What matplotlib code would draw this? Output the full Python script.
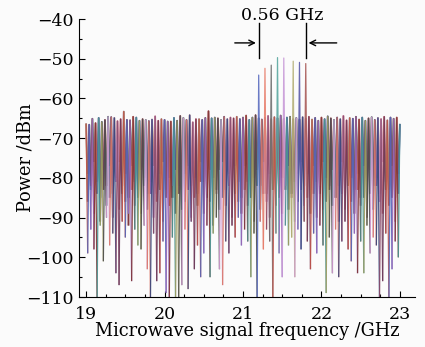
import numpy as np
import matplotlib
matplotlib.use('Agg')
import matplotlib.pyplot as plt
from matplotlib.collections import LineCollection
from matplotlib.ticker import MultipleLocator

plt.rcParams['font.family'] = ['DejaVu Serif']

# comb lines 19.00 ... 23.00 GHz, 0.04 GHz apart
comb_freq = np.linspace(19.0, 23.0, 101)

# peak level of every comb line (dBm)
comb_peak = [
    -66.3, -66.6, -65.1, -66.2, -64.9, -65.9, -65.4, -64.6, -64.7, -64.9,
    -65.7, -65.2, -63.3, -65.4, -65.5, -64.6, -64.8, -65.6, -65.2, -65.4,
    -65.7, -65.3, -64.5, -65.6, -65.2, -65.4, -65.8, -65.8, -64.9, -65.6,
    -64.4, -64.9, -65.4, -64.2, -66.0, -65.2, -65.2, -65.4, -64.9, -63.2,
    -65.0, -64.8, -65.0, -65.4, -64.6, -65.2, -64.8, -65.0, -64.6, -65.2,
    -64.8, -64.3, -65.4, -64.8, -64.2, -65.0, -65.3, -64.9, -64.4, -65.2,
    -64.7, -65.0, -64.3, -65.1, -64.8, -64.6, -65.2, -64.9, -65.3, -64.7,
    -65.1, -64.6, -65.3, -64.9, -65.6, -64.8, -65.2, -64.5, -65.0, -65.4,
    -64.8, -65.2, -64.4, -65.5, -64.9, -65.1, -64.6, -65.3, -64.8, -65.6,
    -65.0, -64.7, -65.4, -64.9, -65.2, -64.6, -65.5, -64.8, -65.1, -64.8,
    -66.4]

# the eight strong lines in the middle
tall_freq = [21.20, 21.28, 21.36, 21.44, 21.52, 21.64, 21.72, 21.80]
tall_level = [-54.1, -52.4, -51.6, -49.7, -49.8, -50.6, -50.9, -51.2]
tall_colors = ['#5a6cc0', '#e8806e', '#707070', '#5aa8a0',
               '#c89ad8', '#b4b078', '#5a5aa8', '#a85a58']

# floor between neighbouring lines, three traces
trough_1 = [
    -99, -93, -98, -112, -92, -101, -90, -97, -94, -104,
    -107, -91, -95, -89, -106, -93, -97, -98, -92, -103,
    -112, -94, -106, -104, -96, -109, -112, -95, -112, -110,
    -107, -93, -108, -91, -103, -97, -105, -99, -92, -105,
    -94, -90, -103, -107, -96, -99, -92, -95, -90, -97,
    -93, -96, -105, -94, -112, -91, -98, -93, -96, -112,
    -94, -99, -105, -92, -97, -95, -105, -93, -98, -91,
    -96, -103, -94, -99, -92, -97, -109, -95, -104, -93,
    -105, -96, -91, -98, -101, -94, -104, -96, -104, -92,
    -99, -95, -97, -112, -106, -94, -112, -103, -96, -100]
trough_2 = [
    -86, -82, -89, -84, -91, -83, -87, -85, -90, -81,
    -88, -84, -86, -92, -83, -87, -85, -89, -82, -88,
    -84, -90, -86, -83, -91, -85, -87, -82, -89, -84,
    -88, -86, -83, -90, -85, -87, -81, -89, -84, -86,
    -92, -83, -88, -85, -87, -82, -90, -84, -86, -89,
    -83, -87, -85, -91, -82, -88, -84, -86, -90, -83,
    -87, -85, -89, -82, -88, -84, -91, -86, -83, -87,
    -85, -89, -84, -90, -82, -88, -86, -83, -87, -85,
    -91, -84, -88, -82, -86, -89, -83, -87, -85, -90,
    -84, -88, -82, -86, -89, -83, -87, -85, -91, -84]
trough_3 = [
    -79, -83, -76, -81, -85, -78, -82, -77, -84, -80,
    -76, -82, -79, -85, -77, -81, -83, -78, -80, -84,
    -81, -77, -84, -79, -76, -83, -80, -85, -78, -82,
    -83, -79, -77, -82, -80, -84, -76, -81, -85, -78,
    -80, -84, -78, -76, -83, -79, -82, -77, -81, -85,
    -77, -81, -85, -80, -78, -82, -76, -84, -79, -83,
    -84, -78, -80, -83, -77, -85, -81, -79, -76, -82,
    -79, -83, -77, -81, -84, -76, -80, -82, -78, -85,
    -82, -76, -84, -78, -80, -83, -79, -85, -77, -81,
    -78, -82, -80, -84, -76, -81, -83, -77, -85, -79]

palette = ['#c0524a', '#5566b8', '#9a68b8', '#7e3434', '#4a9490',
           '#a09c60', '#4e4e4e', '#d09ad0', '#dc7868', '#37457a',
           '#8a4a6a', '#6a3a5a']


def spikes(peaks, troughs):
    mid = (comb_freq[:-1] + comb_freq[1:]) / 2
    segs = []
    for k in range(len(comb_freq)):
        pts = []
        if k > 0:
            pts.append((mid[k-1], troughs[k-1]))
        pts.append((comb_freq[k], peaks[k]))
        if k < len(mid):
            pts.append((mid[k], troughs[k]))
        segs.append(pts)
    return segs


n = len(comb_freq)
m = len(palette)
peak_1 = list(comb_peak)
col_1 = [palette[k % m] for k in range(n)]
for f, p, c in zip(tall_freq, tall_level, tall_colors):
    k = int(round((f - 19.0) / 0.04))
    peak_1[k] = p
    col_1[k] = c
col_2 = [palette[(5*k + 5) % m] for k in range(n)]
col_3 = [palette[(7*k + 2) % m] for k in range(n)]

fig = plt.figure(figsize=(4.25, 3.47), dpi=100)
fig.patch.set_facecolor('#fbfbfb')
ax = fig.add_axes([0.186, 0.144, 0.79, 0.801])
ax.set_facecolor('#fbfbfb')

ax.add_collection(LineCollection(spikes(comb_peak, trough_3), colors=col_3, linewidths=1.3, alpha=0.85))
ax.add_collection(LineCollection(spikes(comb_peak, trough_2), colors=col_2, linewidths=1.2, alpha=0.85))
ax.add_collection(LineCollection(spikes(peak_1, trough_1), colors=col_1, linewidths=0.9, alpha=0.9))

ax.set_xlim(18.91, 23.19)
ax.set_ylim(-110, -40)
ax.spines['top'].set_visible(False)
ax.spines['right'].set_visible(False)
ax.xaxis.set_major_locator(MultipleLocator(1))
ax.xaxis.set_minor_locator(MultipleLocator(0.25))
ax.yaxis.set_major_locator(MultipleLocator(10))
ax.yaxis.set_minor_locator(MultipleLocator(5))
ax.tick_params(which='both', direction='in', width=0.8, labelsize=12.5)
ax.tick_params(which='major', length=4)
ax.tick_params(which='minor', length=2.5)
ax.tick_params(axis='y', pad=4)
ax.tick_params(axis='x', pad=6.5)

ax.set_xlabel('Microwave signal frequency /GHz', fontsize=12.8, labelpad=-1)
ax.set_ylabel('Power /dBm', fontsize=12.8, labelpad=-6)

# 0.56 GHz marker
for f in (tall_freq[0], tall_freq[-1]):
    ax.plot([f, f], [-41.0, -49.8], color='k', lw=1)
ax.annotate('', xy=(tall_freq[0], -46), xytext=(20.86, -46),
            arrowprops=dict(arrowstyle='->', color='k', lw=1))
ax.annotate('', xy=(tall_freq[-1], -46), xytext=(22.23, -46),
            arrowprops=dict(arrowstyle='->', color='k', lw=1))
ax.text((tall_freq[0] + tall_freq[-1]) / 2, -39, '0.56 GHz', ha='center', va='center',
        fontsize=12.5, clip_on=False)

plt.savefig('out.png', dpi=100, facecolor=fig.get_facecolor())
